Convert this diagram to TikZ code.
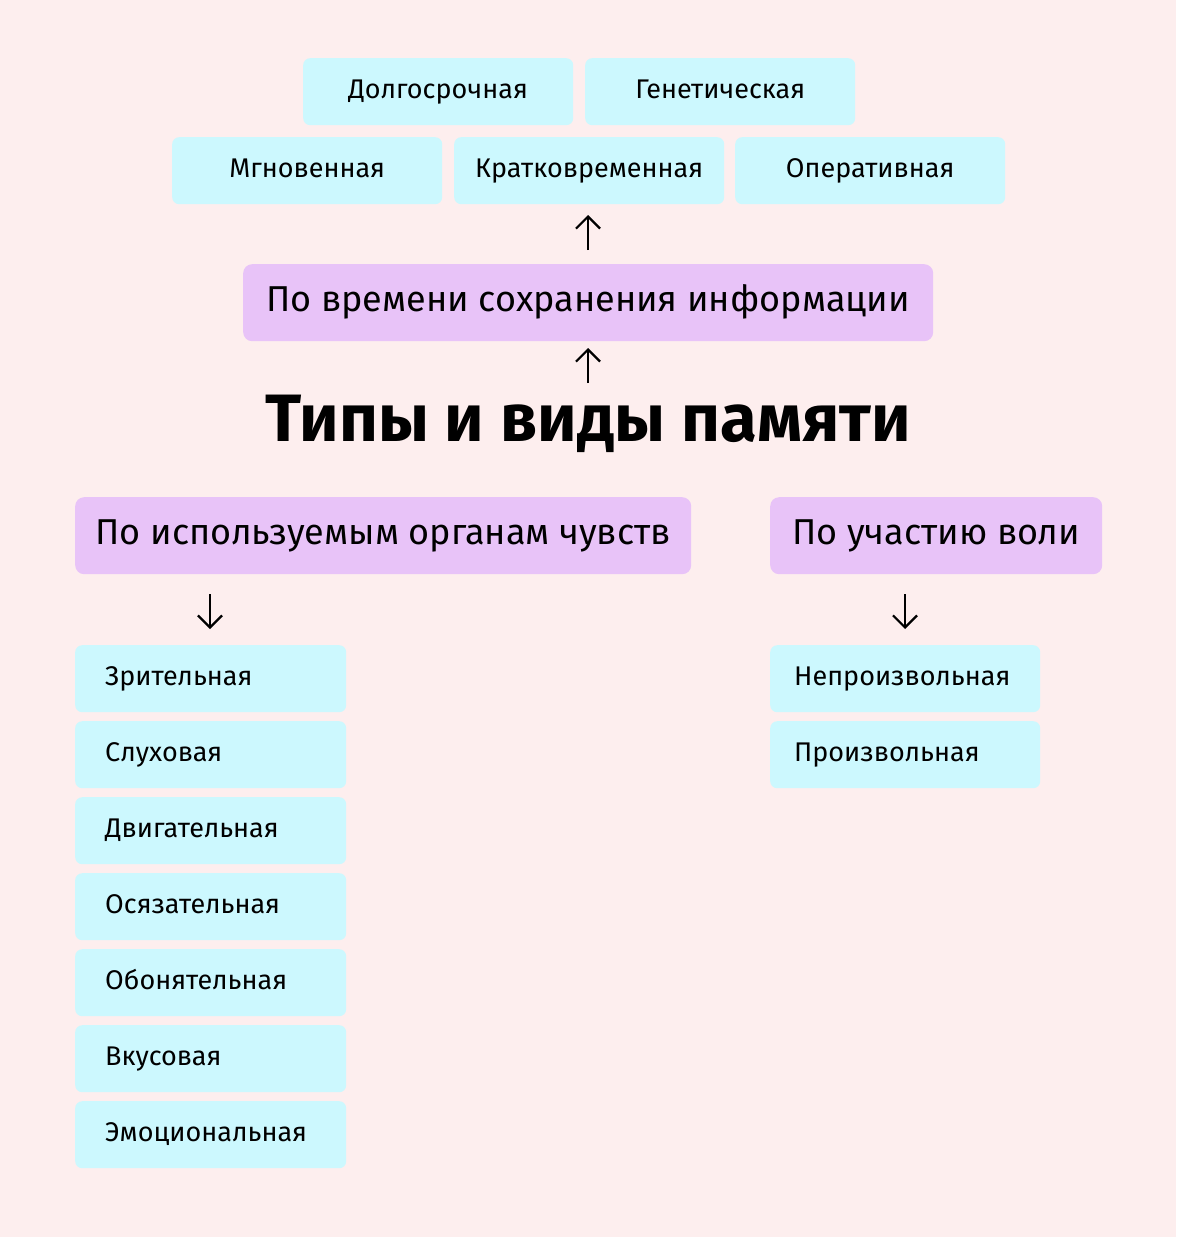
\documentclass[tikz,border=0pt]{standalone}
\usepackage{fontspec}
\setmainfont{Fira Sans}
\usetikzlibrary{arrows.meta}
\definecolor{bg}{HTML}{FDEEEE}
\definecolor{cy}{HTML}{CCF8FE}
\definecolor{pu}{HTML}{E8C3F8}
\begin{document}
\begin{tikzpicture}[x=1pt,y=-1pt,
  sm/.style={fill=cy,rounded corners=7pt,draw=none,font=\fontsize{27}{30}\selectfont,text height=19pt,text depth=6pt},
  bg/.style={fill=pu,rounded corners=9pt,draw=none,font=\fontsize{36}{40}\selectfont,text height=26pt,text depth=8pt},
  ar/.style={-{Straight Barb[length=12pt,width=24pt,line width=2.2pt]},line width=2.4pt}]
\useasboundingbox[fill=bg] (0,0) rectangle (1176,1237);
\foreach \n/\xa/\ya/\t in {d/303/58/Долгосрочная, g/585/58/Генетическая, m/172/137/Мгновенная, k/454/137/Кратковременная, o/735/137/Оперативная}{
  \node[sm,minimum width=270pt,minimum height=67pt,anchor=north west] (\n) at (\xa,\ya) {\t};}
\node[bg,minimum width=690pt,minimum height=77pt,anchor=north west] (time) at (243,264) {По времени сохранения информации};
\node[font=\bfseries\fontsize{67}{80}\selectfont] (title) at (588,424) {Типы и виды памяти};
\node[bg,minimum width=616pt,minimum height=77pt,anchor=north west] (org) at (75,497) {По используемым органам чувств};
\node[bg,minimum width=332pt,minimum height=77pt,anchor=north west] (vol) at (770,497) {По участию воли};
\coordinate (a1s) at (588,250); \coordinate (a1e) at (588,215);
\coordinate (a2s) at (588,383); \coordinate (a2e) at (588,348);
\coordinate (a3s) at (210,594); \coordinate (a3e) at (210,629);
\coordinate (a4s) at (905,594); \coordinate (a4e) at (905,629);
\draw[ar] (a1s) -- (a1e);
\draw[ar] (a2s) -- (a2e);
\draw[ar] (a3s) -- (a3e);
\draw[ar] (a4s) -- (a4e);
\foreach \i/\t in {0/Зрительная,1/Слуховая,2/Двигательная,3/Осязательная,4/Обонятельная,5/Вкусовая,6/Эмоциональная}{
  \node[sm,minimum width=271pt,minimum height=67pt,anchor=north west,inner xsep=30pt,text width=211pt,align=left] (l\i) at (75,{645+76*\i}) {\t};}
\foreach \i/\t in {0/Непроизвольная,1/Произвольная}{
  \node[sm,minimum width=270pt,minimum height=67pt,anchor=north west,inner xsep=24pt,text width=222pt,align=left] (r\i) at (770,{645+76*\i}) {\t};}
\end{tikzpicture}
\end{document}
